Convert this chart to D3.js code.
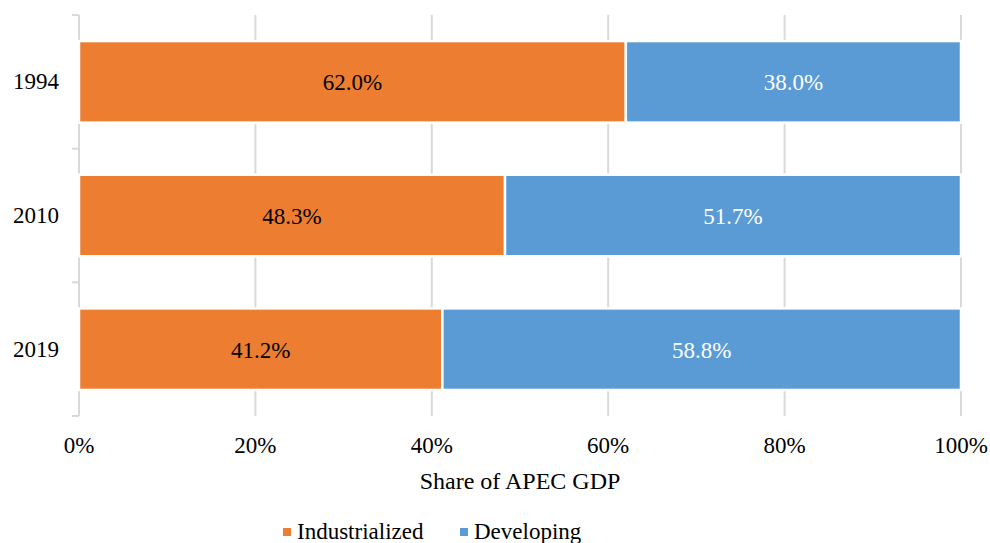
<!DOCTYPE html>
<html><head><meta charset="utf-8">
<script src="https://cdn.jsdelivr.net/npm/d3@7"></script>
<style>body{margin:0;background:#fff}svg{display:block}</style>
</head><body><svg id="c" width="990" height="543"></svg>
<script>
const categories = ["1994","2010","2019"];
const seriesNames = ["Industrialized","Developing"];
const industrialized = [62.0, 48.3, 41.2];
const developing = [38.0, 51.7, 58.8];
const xTicks = [0,20,40,60,80,100];
const colors = ["#ED7D31","#5B9BD5"];
const labelColors = ["#000000","#ffffff"];
const FF = "'Liberation Serif'";

const svg = d3.select("#c");
const x = d3.scaleLinear().domain([0,100]).range([79,961]);
const y = d3.scaleBand().domain(categories).range([15,416]).paddingInner(0.39).paddingOuter(0.195);
const yb = d3.scaleBand().domain(categories).range([15,416]);

svg.append("g").selectAll("line").data(xTicks.filter(d=>d>0)).join("line")
  .attr("x1",d=>x(d)).attr("x2",d=>x(d)).attr("y1",15).attr("y2",416)
  .attr("stroke","#d9d9d9").attr("stroke-width",2);

const bounds = categories.map(c=>yb(c)).concat([416]);
svg.append("line").attr("x1",79).attr("x2",79).attr("y1",15).attr("y2",416).attr("stroke","#d9d9d9").attr("stroke-width",2);
svg.append("g").selectAll("line").data(bounds).join("line")
  .attr("x1",72).attr("x2",79).attr("y1",d=>d).attr("y2",d=>d).attr("stroke","#d9d9d9").attr("stroke-width",2);

const data = categories.map((c,i)=>({c, vals:[industrialized[i], developing[i]]}));
const stacked = [];
data.forEach(d=>{let acc=0; d.vals.forEach((v,k)=>{stacked.push({c:d.c,k,v,x0:acc,x1:acc+v}); acc+=v;});});

svg.append("g").selectAll("rect").data(stacked).join("rect")
  .attr("x",d=>x(d.x0)).attr("width",d=>x(d.x1)-x(d.x0))
  .attr("y",d=>y(d.c)).attr("height",y.bandwidth())
  .attr("fill",d=>colors[d.k]).attr("stroke","#fff").attr("stroke-width",2.5);

svg.append("g").selectAll("text").data(stacked).join("text")
  .style("font-family",FF)
  .attr("x",d=>(x(d.x0)+x(d.x1))/2).attr("y",d=>y(d.c)+y.bandwidth()/2+8.5)
  .attr("text-anchor","middle").attr("font-size",23).attr("fill",d=>labelColors[d.k])
  .text(d=>d.v.toFixed(1)+"%");

svg.append("g").selectAll("text").data(categories).join("text")
  .style("font-family",FF)
  .attr("x",59).attr("y",d=>y(d)+y.bandwidth()/2+7.5).attr("text-anchor","end")
  .attr("font-size",23).attr("fill","#000").text(d=>d);

svg.append("g").selectAll("text").data(xTicks).join("text")
  .style("font-family",FF)
  .attr("x",d=>x(d)).attr("y",453).attr("text-anchor","middle")
  .attr("font-size",23).attr("fill","#000").text(d=>d+"%");

svg.append("text").style("font-family",FF).attr("x",x(50)).attr("y",489).attr("text-anchor","middle").attr("font-size",24).text("Share of APEC GDP");

const lg = svg.append("g");
const items = [{n:seriesNames[0],c:colors[0],x:283,tx:297},{n:seriesNames[1],c:colors[1],x:460,tx:474}];
items.forEach(it=>{
  lg.append("rect").attr("x",it.x).attr("y",528).attr("width",8).attr("height",8).attr("fill",it.c);
  lg.append("text").style("font-family",FF).attr("x",it.tx).attr("y",539).attr("font-size",23).text(it.n);
});
</script></body></html>
